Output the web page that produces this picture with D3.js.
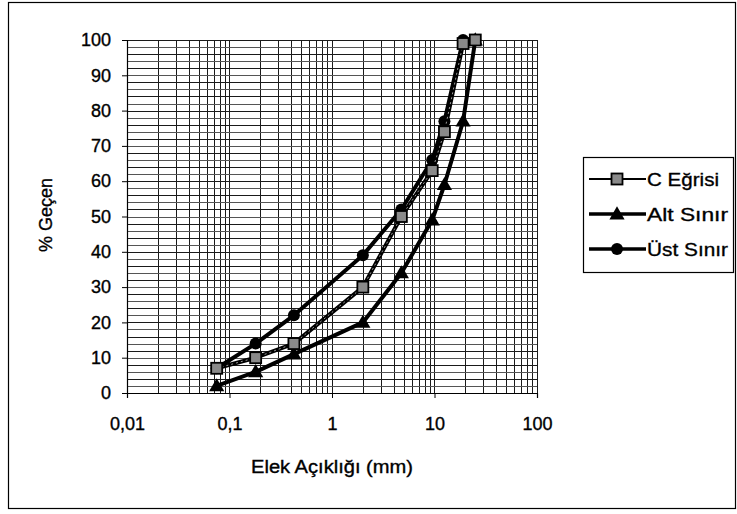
<!DOCTYPE html>
<html>
<head>
<meta charset="utf-8">
<script src="https://cdn.jsdelivr.net/npm/d3@7"></script>
<style>
  html, body { margin: 0; padding: 0; background: #fff; }
  text { font-family: "Liberation Sans", Arial, sans-serif; fill: #000; stroke: #000; stroke-width: 0.35px; }
</style>
</head>
<body>
<svg id="chart" width="737" height="514"></svg>
<script>
// Sieve openings (mm) and passing percentages
const sieveSizes = [0.075, 0.18, 0.425, 2, 4.75, 9.5, 12.5, 19, 25];
const cCurve     = [7, 10, 14, 30, 50, 63, 74, 99, 100];
const lowerLimit = [2, 6, 11, 20, 34, 49, 59, 77, 100];
const upperLimit = [7, 14, 22, 39, 52, 66, 77, 100, 100];

const seriesNames = ["C Eğrisi", "Alt Sınır", "Üst Sınır"];
const xTickValues = [0.01, 0.1, 1, 10, 100];
const xTickLabels = ["0,01", "0,1", "1", "10", "100"];
const yTickValues = [0, 10, 20, 30, 40, 50, 60, 70, 80, 90, 100];

const svg = d3.select("#chart");
const W = 737, H = 514;
const plot = { left: 127, right: 537, top: 40, bottom: 393 };

svg.append("rect").attr("width", W).attr("height", H).attr("fill", "#fff");
// chart frame
svg.append("rect")
  .attr("x", 8.5).attr("y", 2.5).attr("width", 727).attr("height", 506)
  .attr("fill", "none").attr("stroke", "#000").attr("stroke-width", 1.2);

const x = d3.scaleLog().domain([0.01, 100]).range([plot.left, plot.right]);
const y = d3.scaleLinear().domain([0, 100]).range([plot.bottom, plot.top]);

// grid: minor log lines vertically, every 2 % horizontally
const grid = svg.append("g").attr("shape-rendering", "crispEdges");
const vLines = [];
for (let e = -2; e < 2; e++) for (let m = 1; m <= 9; m++) vLines.push(m * Math.pow(10, e));
vLines.push(100);
grid.selectAll("line.v").data(vLines).join("line")
  .attr("x1", d => Math.round(x(d)) + 0.5).attr("x2", d => Math.round(x(d)) + 0.5)
  .attr("y1", plot.top).attr("y2", plot.bottom)
  .attr("stroke", "#1a1a1a").attr("stroke-width", 1);
const hLines = d3.range(0, 101, 2);
grid.selectAll("line.h").data(hLines).join("line")
  .attr("x1", plot.left).attr("x2", plot.right)
  .attr("y1", d => Math.round(y(d)) + 0.5).attr("y2", d => Math.round(y(d)) + 0.5)
  .attr("stroke", (d, i) => i % 2 ? "#555" : "#1a1a1a").attr("stroke-width", 1);

// axes
const yAxis = d3.axisLeft(y).tickValues(yTickValues).tickSize(5).tickPadding(11);
const gy = svg.append("g").attr("transform", `translate(${plot.left},0)`).call(yAxis);
const xAxis = d3.axisBottom(x).tickValues(xTickValues)
  .tickFormat((d, i) => xTickLabels[i]).tickSize(5).tickPadding(19);
const gx = svg.append("g").attr("transform", `translate(0,${plot.bottom})`).call(xAxis);
[gx, gy].forEach(g => {
  g.select(".domain").attr("stroke", "#000").attr("stroke-width", 1.2);
  g.selectAll(".tick line").attr("stroke", "#000");
  g.selectAll(".tick text").attr("font-size", 18)
    .attr("font-family", "'Liberation Sans', Arial, sans-serif");
});

// axis titles
svg.append("text").attr("x", 332).attr("y", 473).attr("text-anchor", "middle")
  .attr("font-size", 18).attr("textLength", 162).attr("lengthAdjust", "spacingAndGlyphs")
  .text("Elek Açıklığı (mm)");
svg.append("text").attr("transform", "translate(52,215) rotate(-90)")
  .attr("text-anchor", "middle").attr("font-size", 18).text("% Geçen");

// series
const series = [
  { name: seriesNames[0], values: cCurve, marker: "square" },
  { name: seriesNames[1], values: lowerLimit, marker: "triangle" },
  { name: seriesNames[2], values: upperLimit, marker: "circle" }
];
const line = d3.line().x(d => x(d[0])).y(d => y(d[1]));

function drawMarker(g, type, cx, cy) {
  if (type === "square") {
    g.append("rect").attr("x", cx - 5.5).attr("y", cy - 5.5).attr("width", 11).attr("height", 11)
      .attr("fill", "#8a8a8a").attr("stroke", "#000").attr("stroke-width", 1.8);
  } else if (type === "triangle") {
    g.append("path").attr("d", d3.symbol(d3.symbolTriangle, 100)())
      .attr("transform", `translate(${cx},${cy + 1})`).attr("fill", "#000");
  } else {
    g.append("circle").attr("cx", cx).attr("cy", cy).attr("r", 6).attr("fill", "#000");
  }
}

const plotG = svg.append("g");
series.slice().reverse().forEach(s => {
  const pts = sieveSizes.map((v, i) => [v, s.values[i]]);
  plotG.append("path").datum(pts).attr("d", line)
    .attr("fill", "none").attr("stroke", "#000").attr("stroke-width", 4)
    .attr("stroke-linejoin", "round");
  if (s.marker === "square") {
    plotG.append("path").datum(pts).attr("d", line)
      .attr("fill", "none").attr("stroke", "#9a9a9a").attr("stroke-width", 1)
      .attr("stroke-dasharray", "2,3");
  }
  pts.forEach(p => drawMarker(plotG, s.marker, x(p[0]), y(p[1])));
});

// legend
const lg = svg.append("g");
lg.append("rect").attr("x", 583.5).attr("y", 157.5).attr("width", 150).attr("height", 115)
  .attr("fill", "#fff").attr("stroke", "#000").attr("stroke-width", 1.2);
series.forEach((s, i) => {
  const ly = 179 + i * 35;
  lg.append("line").attr("x1", 589).attr("x2", 646).attr("y1", ly).attr("y2", ly)
    .attr("stroke", "#000").attr("stroke-width", s.marker === "square" ? 2 : 3.5);
  drawMarker(lg, s.marker, 617, ly);
  lg.append("text").attr("x", 647).attr("y", ly).attr("dy", "0.35em")
    .attr("font-size", 19).attr("textLength", s.name.length * 9)
    .attr("lengthAdjust", "spacingAndGlyphs").text(s.name);
});
</script>
</body>
</html>
